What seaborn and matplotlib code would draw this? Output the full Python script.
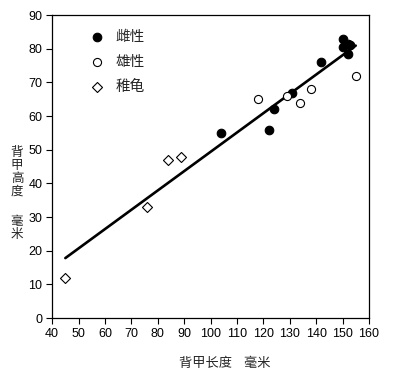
import numpy as np
import pandas as pd
import matplotlib
matplotlib.use("Agg")
import matplotlib.pyplot as plt
import seaborn as sns

# carapace length / height (mm)
female_len = [104, 122, 124, 131, 142, 150, 152, 153, 152, 150]
female_hgt = [55, 56, 62, 67, 76, 83, 81.5, 81, 78.5, 80.5]
male_len = [118, 129, 134, 138, 155]
male_hgt = [65, 66, 64, 68, 72]
juv_len = [45, 76, 84, 89]
juv_hgt = [12, 33, 47, 48]

labels = ["雌性", "雄性", "稚龟"]

sns.set_theme(style="ticks")
plt.rcParams["font.family"] = ["Liberation Sans", "Noto Sans CJK SC", "DejaVu Sans"]
cjk = ["Noto Sans CJK SC", "DejaVu Sans"]

fig = plt.figure(figsize=(3.95, 3.88), dpi=100)
ax = fig.add_axes([0.132, 0.180, 0.802, 0.781])

df = pd.DataFrame({
    "len": female_len + male_len + juv_len,
    "hgt": female_hgt + male_hgt + juv_hgt,
    "grp": [labels[0]] * len(female_len) + [labels[1]] * len(male_len) + [labels[2]] * len(juv_len),
})

# regression line over all animals
sns.regplot(data=df, x="len", y="hgt", scatter=False, ci=None, ax=ax,
            line_kws=dict(color="black", lw=1.9))

styles = {
    labels[0]: dict(marker="o", facecolor="black", s=38),
    labels[1]: dict(marker="o", facecolor="white", s=34),
    labels[2]: dict(marker="D", facecolor="white", s=26),
}
for g in labels:
    sub = df[df["grp"] == g]
    st = styles[g]
    sns.scatterplot(data=sub, x="len", y="hgt", ax=ax, marker=st["marker"], s=st["s"],
                    facecolor=st["facecolor"], edgecolor="black", linewidth=0.8,
                    label=g, zorder=3)

ax.set_xlim(40, 160)
ax.set_ylim(0, 90)
ax.set_xticks(np.arange(40, 161, 10))
ax.set_yticks(np.arange(0, 91, 10))
ax.tick_params(direction="out", length=4, width=0.8, labelsize=9, colors="black", pad=3)
for sp in ax.spines.values():
    sp.set_color("black")
    sp.set_linewidth(0.9)
ax.set_xlabel("")
ax.set_ylabel("")

leg = ax.legend(loc="upper left", bbox_to_anchor=(0.06, 0.99), frameon=False,
                prop=dict(family=cjk, size=10.5), labelspacing=0.75,
                handletextpad=0.25, borderpad=0.3)

fig.text(225 / 395, 1 - 363 / 388, "背甲长度    毫米", ha="center", va="center",
         fontsize=9.5, family=cjk)
fig.text(17 / 395, 1 - 172 / 388, "背\n甲\n高\n度", ha="center", va="center",
         fontsize=9, linespacing=0.98, family=cjk)
fig.text(17 / 395, 1 - 228 / 388, "毫\n米", ha="center", va="center",
         fontsize=9, linespacing=0.98, family=cjk)

fig.savefig("out.png", dpi=100)
